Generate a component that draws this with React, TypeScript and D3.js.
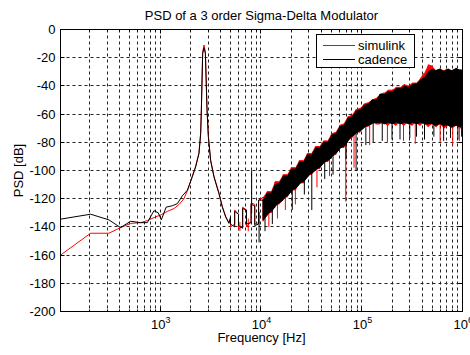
import { useEffect, useRef } from "react";
import * as d3 from "d3";

// clean part of the traces (below the noise floor region)
const simFreq = [103, 205, 311, 406, 511, 642, 748, 900, 1015, 1180, 1376, 1550, 1727, 1900, 2089, 2255, 2433, 2530, 2570, 2649, 2731, 2817, 2925, 3015, 3176, 3426, 3843, 4150, 4478, 4831];
const simDb = [-160, -144.5, -144.5, -140.5, -137.5, -137, -135.5, -133, -131.5, -129, -127, -124, -120, -113, -104, -97, -87.5, -73, -56, -16, -11, -16, -56, -75.5, -92.5, -104, -116, -125.5, -132.5, -137];

const cadFreq = [103, 205, 311, 406, 511, 642, 748, 870, 960, 1030, 1150, 1324, 1485, 1663, 1865, 2089, 2255, 2433, 2530, 2570, 2649, 2731, 2817, 2925, 3015, 3176, 3426, 3843, 4150, 4478, 4831];
const cadDb = [-134.5, -131, -135, -140.5, -136, -137, -137, -128.5, -130, -135, -126, -125, -123.5, -118, -114, -104.5, -97.5, -88, -74, -57, -17, -13, -17, -57, -76, -93, -104.5, -116.5, -126, -133, -137.5];

// noisy part: max / min of the trace inside each frequency bin
const noiseFreq = [5000, 5500, 6000, 6600, 7200, 8000, 8700, 9500, 10500, 11500, 12600, 13800, 15100, 16600, 18200, 20000, 21900, 24000, 26300, 28800, 31600, 34700, 38000, 41700, 45700, 50100, 55000, 60300, 66100, 72400, 79400, 87100, 95500, 104700, 114800, 125900, 138000, 151400, 166000, 182000, 199500, 218800, 239900, 263000, 288400, 316200, 346700, 380200, 416900, 457100, 501200, 549500, 602600, 660700, 724400, 794300, 871000, 955000, 1000000];

const simHi = [-134, -128, -131, -126, -128, -123, -124, -121, -119, -115, -115, -108, -108, -103, -103, -98, -98, -93, -93, -88, -88, -83, -83, -79, -79, -74, -73, -68, -67, -62, -61, -57, -56, -53, -52, -50, -49, -46, -45, -43, -43, -41, -41, -39, -40, -38, -38, -35, -31, -25, -26, -29, -28, -29, -28, -29, -28, -29, -30];
const simLo = [-140, -138, -142, -139, -140, -136, -138, -137, -136, -131, -130, -125, -124, -120, -119, -114, -114, -109, -109, -104, -103, -99, -99, -94, -94, -90, -89, -84, -84, -79, -77, -73, -73, -69, -69, -66, -67, -67, -66, -68, -66, -68, -66, -68, -66, -68, -66, -68, -66, -69, -67, -69, -67, -70, -68, -70, -68, -70, -67];

const cadHi = [-133, -129, -131, -127, -128, -124, -125, -121, -121, -116, -116, -110, -109, -104, -104, -99, -99, -94, -94, -89, -89, -84, -84, -80, -80, -75, -74, -69, -68, -63, -62, -58, -57, -54, -53, -50, -50, -46, -46, -44, -44, -42, -42, -40, -41, -39, -38.5, -36, -34, -30, -28, -29, -28, -29.5, -28, -29, -27.5, -28.5, -29];
const cadLo = [-138, -140, -139, -141, -138, -137, -139, -138, -135, -132, -129, -126, -123, -121, -118, -115, -113, -110, -108, -105, -102, -100, -98, -95, -93, -91, -88, -85, -83, -80, -76, -74, -72, -70, -68, -67, -66, -66, -67, -66, -67, -66, -67, -66, -67, -66, -67, -66, -67, -67, -67, -68, -67, -68, -68, -69, -68, -69, -68];

// isolated spikes leaving the band
const simSpikeFreq = [6200, 7500, 12000, 14600, 17500, 22000, 36000, 48000, 69500, 84000, 120000, 180000, 260000, 340000, 600000, 800000, 930000];
const simSpikeDb = [-143, -143, -140, -134, -128, -124, -112, -104, -122, -98, -82, -80, -79, -81, -80, -82, -79];

const cadSpikeFreq = [8100, 9600, 11000, 13000, 20500, 27000, 32000, 43000, 52000, 70000, 88000, 110000, 130000, 160000, 200000, 240000, 300000, 350000, 420000, 520000, 650000, 760000, 900000, 980000];
const cadSpikeDb = [-100, -151, -143, -138, -128, -117, -128, -106, -103, -92, -100, -82, -80, -79, -78, -78, -77, -76, -78, -76, -79, -77, -78, -76];

const yTicks = [0, -20, -40, -60, -80, -100, -120, -140, -160, -180, -200];
const xMajor = [1e3, 1e4, 1e5, 1e6];
const xMajorExp = ["3", "4", "5", "6"];

const W = 470;
const H = 355;
const FONT = "'Liberation Sans', Arial, Helvetica, sans-serif";

export default function App ()
{
    const svgRef = useRef<SVGSVGElement>( null );

    useEffect( () =>
    {
        if ( !svgRef.current ) return;
        const svg = d3.select( svgRef.current );
        svg.selectAll( "*" ).remove();

        const left = 60.5, right = 462.5, top = 29.5, bottom = 311.5;
        const x = d3.scaleLog().domain( [ 103, 1e6 ] ).range( [ left, right ] );
        const y = d3.scaleLinear().domain( [ -200, 0 ] ).range( [ bottom, top ] );
        const px = ( v: number ) => Math.round( v - 0.5 ) + 0.5;

        svg.append( "rect" ).attr( "width", W ).attr( "height", H ).attr( "fill", "#fff" );

        // grid
        const xAll = x.ticks().filter( ( t ) => t > 103 && t < 1e6 );
        const grid = svg.append( "g" ).attr( "stroke", "#222" ).attr( "stroke-width", 1 ).attr( "stroke-dasharray", "3,3" ).attr( "fill", "none" );
        xAll.forEach( ( t ) =>
        {
            grid.append( "line" ).attr( "x1", px( x( t ) ) ).attr( "x2", px( x( t ) ) ).attr( "y1", top ).attr( "y2", bottom );
        } );
        yTicks.filter( ( t ) => t > -200 && t < 0 ).forEach( ( t ) =>
        {
            grid.append( "line" ).attr( "x1", left ).attr( "x2", right ).attr( "y1", px( y( t ) ) ).attr( "y2", px( y( t ) ) );
        } );

        // data
        svg.append( "clipPath" ).attr( "id", "plotclip" ).append( "rect" )
            .attr( "x", left ).attr( "y", top ).attr( "width", right - left ).attr( "height", bottom - top );
        const plot = svg.append( "g" ).attr( "clip-path", "url(#plotclip)" );

        const line = d3.line<[ number, number ]>().x( ( d ) => x( d[ 0 ] ) ).y( ( d ) => y( d[ 1 ] ) );

        const drawTrace = ( freq: number[], db: number[], hi: number[], lo: number[], spF: number[], spV: number[], color: string ) =>
        {
            // solid body only where the band is dense (above ~10 kHz)
            const dense = noiseFreq.map( ( f, i ) => i ).filter( ( i ) => noiseFreq[ i ] >= 10000 );
            const area = d3.area<number>()
                .x( ( i ) => x( noiseFreq[ i ] ) )
                .y0( ( i ) => y( lo[ i ] ) )
                .y1( ( i ) => y( hi[ i ] ) );
            plot.append( "path" ).attr( "d", area( dense ) ).attr( "fill", color );

            const pts: [ number, number ][] = freq.map( ( f, i ) => [ f, db[ i ] ] as [ number, number ] );
            noiseFreq.forEach( ( f, i ) =>
            {
                if ( i % 2 === 0 ) pts.push( [ f, hi[ i ] ], [ f, lo[ i ] ] );
                else pts.push( [ f, lo[ i ] ], [ f, hi[ i ] ] );
            } );
            plot.append( "path" ).attr( "d", line( pts ) ).attr( "fill", "none" )
                .attr( "stroke", color ).attr( "stroke-width", 1 ).attr( "stroke-linejoin", "miter" );

            spF.forEach( ( f, k ) =>
            {
                const i = d3.leastIndex( noiseFreq, ( n ) => Math.abs( Math.log( n / f ) ) ) ?? 0;
                const mid = ( hi[ i ] + lo[ i ] ) / 2;
                plot.append( "line" ).attr( "x1", x( f ) ).attr( "x2", x( f ) )
                    .attr( "y1", y( mid ) ).attr( "y2", y( spV[ k ] ) )
                    .attr( "stroke", color ).attr( "stroke-width", 1 );
            } );
        };

        drawTrace( simFreq, simDb, simHi, simLo, simSpikeFreq, simSpikeDb, "#ff0000" );
        drawTrace( cadFreq, cadDb, cadHi, cadLo, cadSpikeFreq, cadSpikeDb, "#000000" );

        // ticks
        const ticks = svg.append( "g" ).attr( "stroke", "#000" ).attr( "stroke-width", 1 );
        xAll.concat( [ 1e6 ] ).forEach( ( t ) =>
        {
            const len = xMajor.includes( t ) ? 4 : 2;
            const xx = px( x( t ) );
            ticks.append( "line" ).attr( "x1", xx ).attr( "x2", xx ).attr( "y1", bottom ).attr( "y2", bottom - len );
            ticks.append( "line" ).attr( "x1", xx ).attr( "x2", xx ).attr( "y1", top ).attr( "y2", top + len );
        } );
        yTicks.forEach( ( t ) =>
        {
            const yy = px( y( t ) );
            ticks.append( "line" ).attr( "x1", left ).attr( "x2", left + 4 ).attr( "y1", yy ).attr( "y2", yy );
            ticks.append( "line" ).attr( "x1", right ).attr( "x2", right - 4 ).attr( "y1", yy ).attr( "y2", yy );
        } );

        // box
        svg.append( "rect" ).attr( "x", left ).attr( "y", top ).attr( "width", right - left ).attr( "height", bottom - top )
            .attr( "fill", "none" ).attr( "stroke", "#000" ).attr( "stroke-width", 1 );

        // tick labels
        const labels = svg.append( "g" ).style( "font-family", FONT ).style( "font-size", "13px" ).attr( "fill", "#000" );
        yTicks.forEach( ( t ) =>
        {
            labels.append( "text" ).attr( "x", left - 5 ).attr( "y", y( t ) + 4.5 ).attr( "text-anchor", "end" ).text( `${ t }` );
        } );
        xMajor.forEach( ( t, i ) =>
        {
            const txt = labels.append( "text" ).attr( "x", x( t ) - 9 ).attr( "y", 328.5 ).attr( "text-anchor", "start" );
            txt.append( "tspan" ).text( "10" );
            txt.append( "tspan" ).attr( "dy", -6 ).style( "font-size", "9px" ).text( xMajorExp[ i ] );
        } );

        // titles
        svg.append( "text" ).attr( "x", ( left + right ) / 2 ).attr( "y", 20 ).attr( "text-anchor", "middle" )
            .style( "font-family", FONT ).style( "font-size", "13px" ).text( "PSD of a 3 order Sigma-Delta Modulator" );
        svg.append( "text" ).attr( "x", ( left + right ) / 2 ).attr( "y", 342 ).attr( "text-anchor", "middle" )
            .style( "font-family", FONT ).style( "font-size", "13px" ).text( "Frequency [Hz]" );
        svg.append( "text" ).attr( "transform", `translate(23,${ ( top + bottom ) / 2 }) rotate(-90)` ).attr( "text-anchor", "middle" )
            .style( "font-family", FONT ).style( "font-size", "13px" ).text( "PSD [dB]" );

        // legend
        const lg = svg.append( "g" );
        lg.append( "rect" ).attr( "x", 316.5 ).attr( "y", 34.5 ).attr( "width", 98 ).attr( "height", 33 )
            .attr( "fill", "#fff" ).attr( "stroke", "#000" ).attr( "stroke-width", 1 );
        [ { name: "simulink", color: "#ff0000", yy: 45 }, { name: "cadence", color: "#000000", yy: 59 } ].forEach( ( d ) =>
        {
            lg.append( "line" ).attr( "x1", 323 ).attr( "x2", 355 ).attr( "y1", d.yy + 0.5 ).attr( "y2", d.yy + 0.5 )
                .attr( "stroke", d.color ).attr( "stroke-width", 1 );
            lg.append( "text" ).attr( "x", 358 ).attr( "y", d.yy + 5 ).style( "font-family", FONT ).style( "font-size", "13px" )
                .text( d.name );
        } );
    }, [] );

    return (
        <svg ref={ svgRef } width={ W } height={ H } style={ { position: "absolute", left: 0, top: 0 } } />
    );
}
